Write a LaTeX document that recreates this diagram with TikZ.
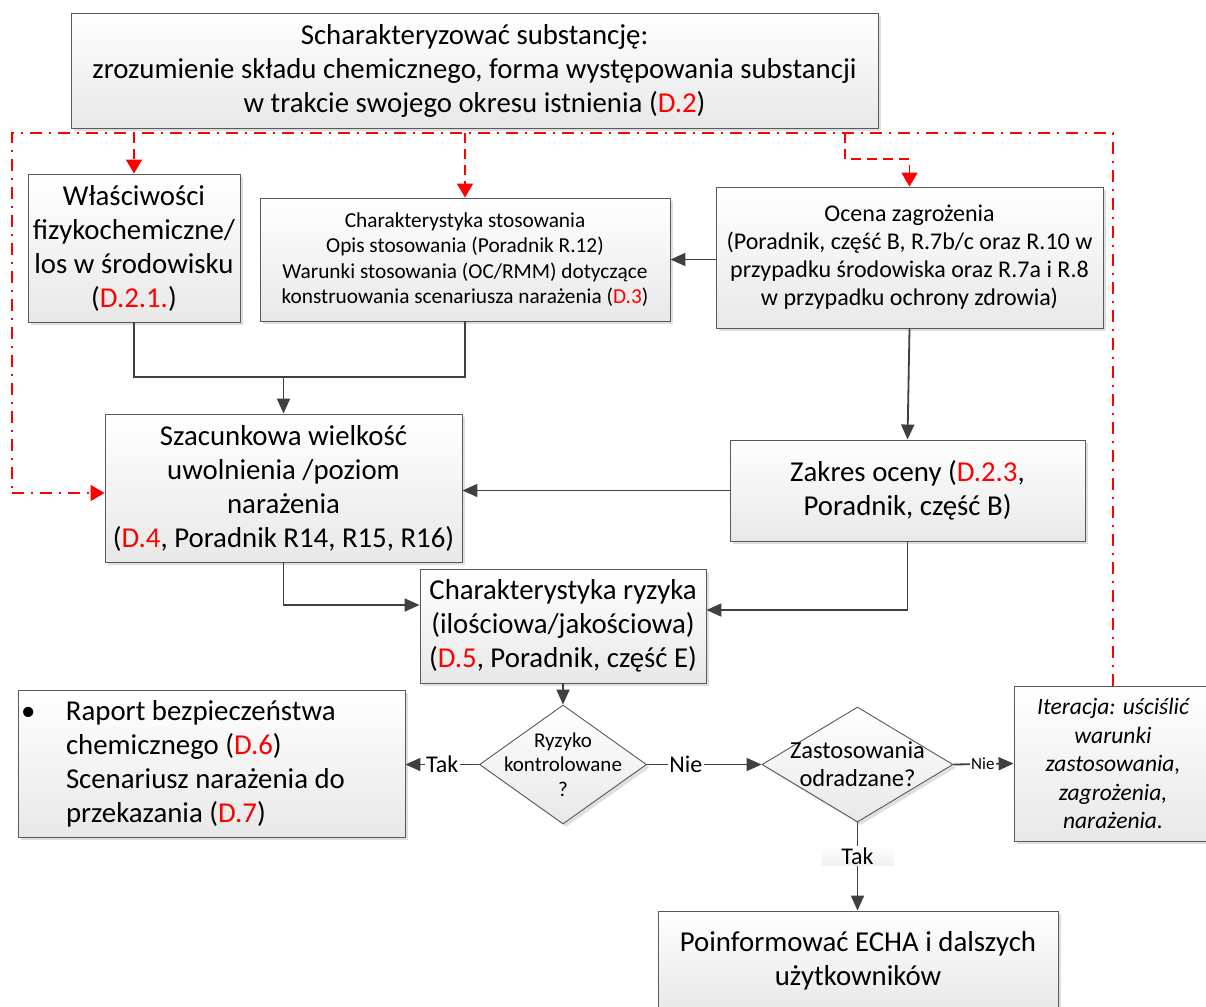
\documentclass[tikz,border=0pt]{standalone}
\usepackage{fontspec}
\setmainfont{Carlito}
\usetikzlibrary{arrows.meta,shapes.geometric,shadows}

\newcommand{\dref}[1]{\textcolor{red}{#1}}

\begin{document}
\begin{tikzpicture}[x=1pt,y=-1pt]
  % overall canvas
  \useasboundingbox (0,0) rectangle (1206,1006);

  % styles
  \tikzset{
    bx/.style={draw=black!65,line width=0.9pt,top color=white,bottom color=black!9,
      drop shadow={shadow xshift=3pt,shadow yshift=-3pt,opacity=0.25,fill=black!50},
      align=center,inner sep=0pt},
    dm/.style={bx,shape=diamond},
    fbig/.style={font=\fontsize{28.8}{34}\selectfont},
    fmid/.style={font=\fontsize{24}{28}\selectfont},
    fsml/.style={font=\fontsize{21.3}{25.5}\selectfont},
    ln/.style={draw=black!75,line width=1.8pt,-{Triangle[length=15pt,width=13pt]}},
    rl/.style={draw=red,line width=1.8pt,dash pattern=on 12pt off 7pt on 2pt off 7pt},
    rd/.style={draw=red,line width=1.8pt,dash pattern=on 10pt off 6pt},
    redtip/.style={-{Triangle[length=14pt,width=16pt]}},
    lb/.style={fill=white,inner sep=1.5pt,font=\fontsize{24}{26}\selectfont},
  }

  % white background
  \fill[white] (0,0) rectangle (1206,1006);

  % --- boxes ---
  \node[bx,fbig,minimum width=807pt,minimum height=115pt] (subst) at (474.5,70.5)
    {Scharakteryzować substancję:\\zrozumienie składu chemicznego, forma występowania substancji\\w trakcie swojego okresu istnienia (\dref{D.2})};

  \node[bx,fbig,minimum width=212pt,minimum height=148pt] (wlas) at (134,248)
    {Właściwości\\fizykochemiczne/\\los w środowisku\\(\dref{D.2.1.})};

  \node[bx,fsml,minimum width=410pt,minimum height=123pt] (charst) at (465,259.5)
    {Charakterystyka stosowania\\Opis stosowania (Poradnik R.12)\\Warunki stosowania (OC/RMM) dotyczące\\konstruowania scenariusza narażenia (\dref{D.3})};

  \node[bx,fmid,minimum width=387pt,minimum height=141pt] (ocena) at (909.5,257.5)
    {Ocena zagrożenia\\(Poradnik, część B, R.7b/c oraz R.10 w\\przypadku środowiska oraz R.7a i R.8\\w przypadku ochrony zdrowia)};

  \node[bx,fbig,minimum width=357pt,minimum height=148pt] (szac) at (283.5,488)
    {Szacunkowa wielkość\\uwolnienia /poziom\\narażenia\\(\dref{D.4}, Poradnik R14, R15, R16)};

  \node[bx,fbig,minimum width=355pt,minimum height=101pt] (zakres) at (907.5,490.5)
    {Zakres oceny (\dref{D.2.3},\\Poradnik, część B)};

  \node[bx,fbig,minimum width=286pt,minimum height=114pt] (chryz) at (563,626)
    {Charakterystyka ryzyka\\(ilościowa/jakościowa)\\(\dref{D.5}, Poradnik, część E)};

  \node[bx,fbig,align=flush left,text width=387pt,minimum height=147pt] (raport) at (211.5,763.5)
    {\makebox[48pt][l]{\hspace{3pt}\textbullet}Raport bezpieczeństwa\\
     \hspace*{48pt}chemicznego (\dref{D.6})\\
     \hspace*{48pt}Scenariusz narażenia do\\
     \hspace*{48pt}przekazania (\dref{D.7})};

  \node[bx,font=\fontsize{23.5}{28.5}\selectfont\itshape,minimum width=198pt,minimum height=155pt] (iter) at (1113,763.5)
    {Iteracja: uściślić\\warunki\\zastosowania,\\zagrożenia,\\narażenia.};

  \node[bx,fbig,minimum width=400pt,minimum height=100pt] (poinf) at (858,961)
    {Poinformować ECHA i dalszych\\użytkowników};

  % decisions
  \node[dm,minimum width=167pt,minimum height=119pt] (ryz) at (563,764.5) {};
  \node[align=center,font=\fontsize{21}{24.5}\selectfont] (ryzt) at (ryz) {Ryzyko\\kontrolowane\\?};

  \node[dm,minimum width=191pt,minimum height=115pt] (zast) at (857.5,764.5) {};
  \node[align=center,font=\fontsize{24.5}{28}\selectfont] (zastt) at (zast) {Zastosowania\\odradzane?};

  % --- black connectors ---
  \coordinate (jn) at (szac.north |- 0,377);
  \draw[ln,-] (wlas.south) -- (wlas.south |- jn) -- (charst.south |- jn) -- (charst.south);
  \draw[ln] (jn) -- (szac.north);
  \draw[ln] (ocena.west |- charst.east) -- (charst.east);
  \draw[ln] (ocena.south) -- (zakres.north);
  \draw[ln] (zakres.west) -- (szac.east |- zakres.west);
  \draw[ln] (szac.south) |- ([yshift=21pt]chryz.west);
  \draw[ln] (zakres.south) |- ([yshift=16pt]chryz.east);
  \draw[ln] (chryz.south) -- (ryz.north);
  \draw[ln] (ryz.west) -- node[lb] {Tak} (raport.east |- ryz.west);
  \draw[ln] (ryz.east) -- node[lb,pos=0.34] {Nie} (zast.west);
  \draw[ln] (zast.east) -- node[lb,pos=0.49,font=\fontsize{17}{20}\selectfont,inner sep=1pt] {Nie} (iter.west);
  \draw[ln] (zast.south) -- node[lb,pos=0.38,inner xsep=20pt,top color=white,bottom color=black!6] {Tak} (zast.south |- poinf.north);

  % --- red iteration loop ---
  \coordinate (lpR) at (iter.north |- 0,133);
  \coordinate (lpL) at (12,133);
  \coordinate (lpB) at (12,493);
  \draw[rl] (iter.north) -- (lpR) -- (lpL) -- (lpB);
  \draw[rl,redtip] (lpB) -- (szac.west |- lpB);

  % red branches down to the boxes
  \coordinate (br1) at (wlas.north |- lpR);
  \coordinate (br2) at (charst.north |- lpR);
  \coordinate (br3) at (845,133);
  \draw[rd,redtip] (br1) -- (wlas.north);
  \draw[rd,redtip] (br2) -- (charst.north);
  \draw[rd,redtip] (br3) -- (br3 |- 0,159) -| (ocena.north);
\end{tikzpicture}
\end{document}
